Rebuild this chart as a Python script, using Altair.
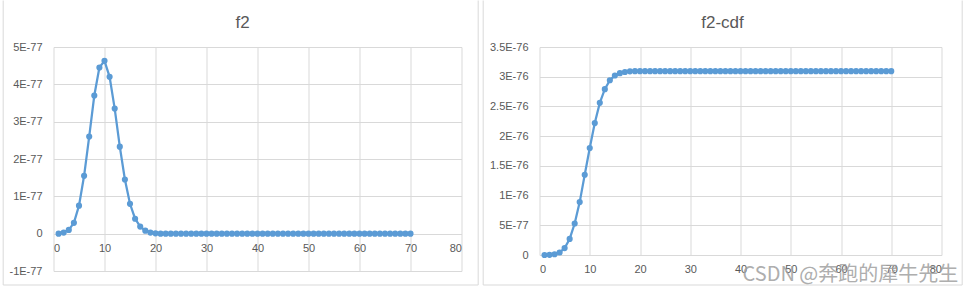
import altair as alt
import pandas as pd

UNIT = 1e-77  # values below are read in units of 1E-77

x_vals = list(range(1, 71))

f2_units = [
    0.0, 0.03, 0.1, 0.29, 0.75, 1.55, 2.6, 3.7, 4.45, 4.63,
    4.2, 3.35, 2.33, 1.45, 0.8, 0.4, 0.19, 0.08, 0.03, 0.01,
    0.0, 0.0, 0.0, 0.0, 0.0, 0.0, 0.0, 0.0, 0.0, 0.0,
    0.0, 0.0, 0.0, 0.0, 0.0, 0.0, 0.0, 0.0, 0.0, 0.0,
    0.0, 0.0, 0.0, 0.0, 0.0, 0.0, 0.0, 0.0, 0.0, 0.0,
    0.0, 0.0, 0.0, 0.0, 0.0, 0.0, 0.0, 0.0, 0.0, 0.0,
    0.0, 0.0, 0.0, 0.0, 0.0, 0.0, 0.0, 0.0, 0.0, 0.0,
]

cdf_units = [
    0.0, 0.03, 0.13, 0.42, 1.17, 2.7, 5.3, 8.9, 13.5, 18.0,
    22.2, 25.6, 27.9, 29.4, 30.2, 30.6, 30.8, 30.9, 30.93, 30.94,
    30.94, 30.94, 30.94, 30.94, 30.94, 30.94, 30.94, 30.94, 30.94, 30.94,
    30.94, 30.94, 30.94, 30.94, 30.94, 30.94, 30.94, 30.94, 30.94, 30.94,
    30.94, 30.94, 30.94, 30.94, 30.94, 30.94, 30.94, 30.94, 30.94, 30.94,
    30.94, 30.94, 30.94, 30.94, 30.94, 30.94, 30.94, 30.94, 30.94, 30.94,
    30.94, 30.94, 30.94, 30.94, 30.94, 30.94, 30.94, 30.94, 30.94, 30.94,
]

x_ticks = [0, 10, 20, 30, 40, 50, 60, 70, 80]
f2_y_ticks = [-1e-77, 0, 1e-77, 2e-77, 3e-77, 4e-77, 5e-77]
cdf_y_ticks = [0, 5e-77, 1e-76, 1.5e-76, 2e-76, 2.5e-76, 3e-76, 3.5e-76]

titles = ["f2", "f2-cdf"]
watermark = ["CSDN @奔跑的犀牛先生"]

BLUE = "#5B9BD5"
GRID = "#d9d9d9"
TEXT = "#595959"
FONT = "Liberation Sans"

label_expr = ("datum.value == 0 ? '0' : "
              "replace(replace(format(datum.value, '~e'), 'e', 'E'), '\u2212', '-')")

df_f2 = pd.DataFrame({"x": x_vals, "y": [v * UNIT for v in f2_units]})
df_cdf = pd.DataFrame({"x": x_vals, "y": [v * UNIT for v in cdf_units]})

one = pd.DataFrame({"a": [0]})


def frame(left, right, top, bottom):
    vl = alt.Chart(one).mark_rule(color=GRID, strokeWidth=1).encode(
        x=alt.value(left), y=alt.value(top), y2=alt.value(bottom))
    vr = alt.Chart(one).mark_rule(color=GRID, strokeWidth=1).encode(
        x=alt.value(right), y=alt.value(top), y2=alt.value(bottom))
    hb = alt.Chart(one).mark_rule(color=GRID, strokeWidth=1).encode(
        x=alt.value(left), x2=alt.value(right), y=alt.value(bottom))
    return [vl, vr, hb]


def title_text(t, cx):
    return alt.Chart(pd.DataFrame({"t": [t]})).mark_text(
        align="center", baseline="alphabetic", fontSize=17, font=FONT,
        color=TEXT).encode(x=alt.value(cx), y=alt.value(-19.5), text="t:N")


def panel(df, yticks, xaxis_offset):
    ydom = [yticks[0], yticks[-1]]
    xs = alt.X("x:Q", scale=alt.Scale(domain=[0, 80], nice=False),
               axis=alt.Axis(values=x_ticks, title=None, offset=xaxis_offset,
                             labelPadding=8.5))
    ys = alt.Y("y:Q", scale=alt.Scale(domain=ydom, nice=False, zero=False),
               axis=alt.Axis(values=yticks, title=None, labelExpr=label_expr,
                             labelPadding=11.5))
    base = alt.Chart(df)
    line = base.mark_line(color=BLUE, strokeWidth=2.25).encode(x=xs, y=ys)
    pts = base.mark_circle(color=BLUE, size=38, opacity=1).encode(x=xs, y=ys)
    return line, pts


# Left panel
W1, H1 = 408, 224
off1 = -H1 * (0 - f2_y_ticks[0]) / (f2_y_ticks[-1] - f2_y_ticks[0])
l_line, l_pts = panel(df_f2, f2_y_ticks, off1)
left = alt.layer(*frame(-50.3, 424.7, -46.5, 238), l_line, l_pts,
                 title_text(titles[0], 189)).properties(width=W1, height=H1)

# Right panel
W2, H2 = 402, 208
r_line, r_pts = panel(df_cdf, cdf_y_ticks, 0)
wm = alt.Chart(pd.DataFrame({"t": watermark})).mark_text(
    align="left", baseline="alphabetic", fontSize=20, font="Noto Sans CJK SC",
    color="#a0a0a0", opacity=0.85).encode(
    x=alt.value(203), y=alt.value(234), text="t:N")
right = alt.layer(*frame(-56.3, 422.7, -46.5, 238), r_line, r_pts,
                  title_text(titles[1], 183), wm).properties(width=W2, height=H2)

chart = alt.hconcat(left, right, spacing=78, bounds="flush").properties(
    padding={"left": 2.5, "top": 0, "right": 0, "bottom": 0},
    background="white",
).configure_view(strokeWidth=0).configure_axis(
    grid=True, gridColor=GRID, gridWidth=1, domain=False, ticks=False,
    labelFont=FONT, labelFontSize=11, labelColor=TEXT,
)

chart.save("out.html", embed_options={"renderer": "svg", "actions": False})
